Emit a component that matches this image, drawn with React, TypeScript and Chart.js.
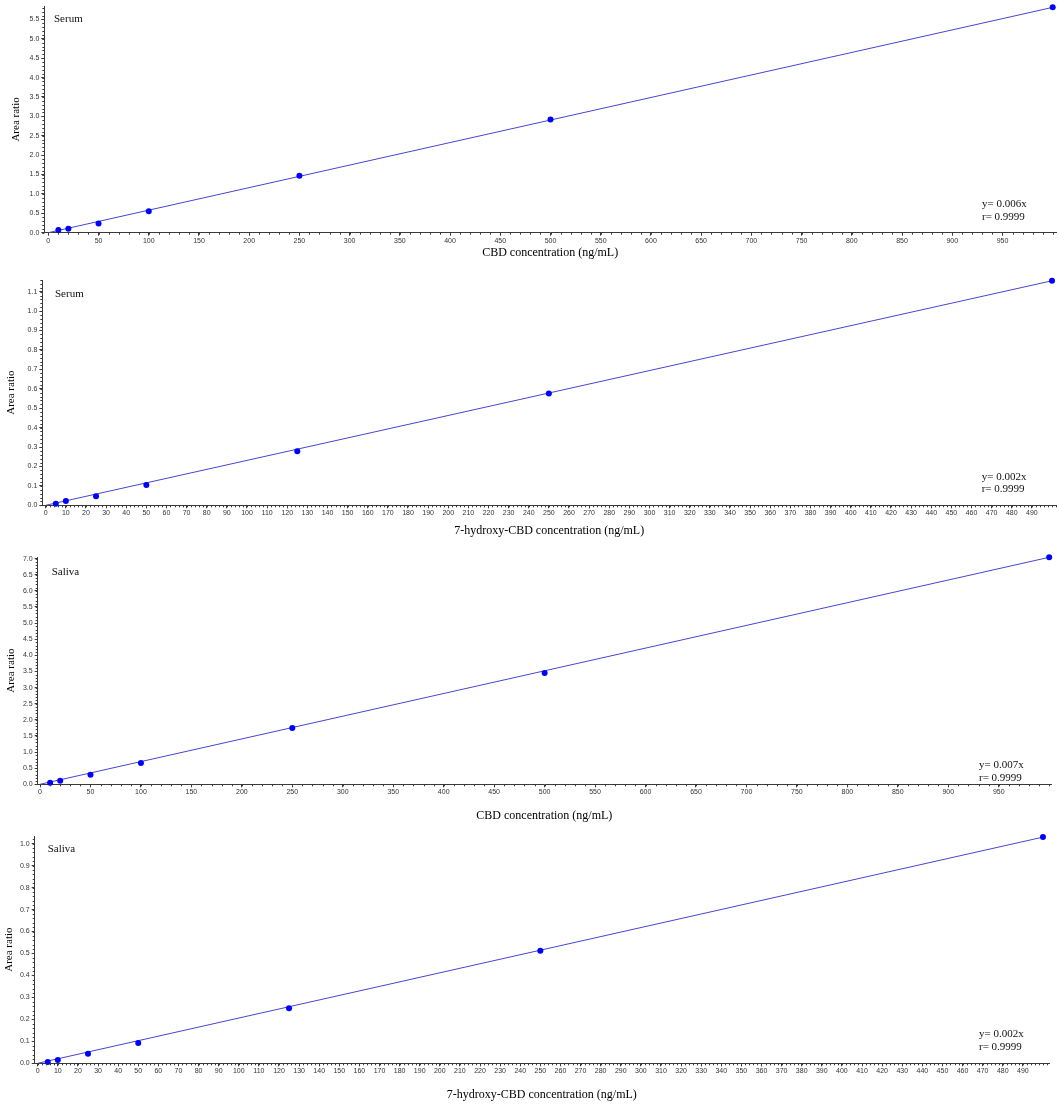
import React, { useEffect, useRef } from "react";
import { Chart, registerables } from "chart.js";

Chart.register(...registerables);

// ---- Data ----
const serumCbdX = [10, 20, 50, 100, 250, 500, 1000];
const serumCbdY = [0.07, 0.1, 0.24, 0.55, 1.47, 2.92, 5.81];
const serumCbdFitX = [0, 1000];
const serumCbdFitY = [0, 5.81];

const serumOhX = [5, 10, 25, 50, 125, 250, 500];
const serumOhY = [0.008, 0.022, 0.046, 0.104, 0.278, 0.576, 1.156];
const serumOhFitX = [0, 500];
const serumOhFitY = [0, 1.156];

const salivaCbdX = [10, 20, 50, 100, 250, 500, 1000];
const salivaCbdY = [0.05, 0.11, 0.3, 0.66, 1.75, 3.45, 7.04];
const salivaCbdFitX = [0, 1000];
const salivaCbdFitY = [0, 7.04];

const salivaOhX = [5, 10, 25, 50, 125, 250, 500];
const salivaOhY = [0.006, 0.015, 0.044, 0.092, 0.251, 0.513, 1.03];
const salivaOhFitX = [0, 500];
const salivaOhFitY = [0, 1.03];

const matrixLabels = ["Serum", "Serum", "Saliva", "Saliva"];
const equationLabels = ["y= 0.006x", "y= 0.002x", "y= 0.007x", "y= 0.002x"];
const rLabels = ["r= 0.9999", "r= 0.9999", "r= 0.9999", "r= 0.9999"];
const xTitles = [
  "CBD concentration (ng/mL)",
  "7-hydroxy-CBD concentration (ng/mL)",
  "CBD concentration (ng/mL)",
  "7-hydroxy-CBD concentration (ng/mL)",
];
const xLastLabels = [950, 490, 950, 490];
const yTitle = "Area ratio";

// ---- Layout / styling per panel ----
const panels = [
  {
    px: serumCbdX, py: serumCbdY, fx: serumCbdFitX, fy: serumCbdFitY,
    top: 0, height: 265, padTop: 3, padRight: 3, yWidth: 44.3, xHeight: 32.3,
    xTitlePB: 4.8, yTitlePT: 9.3,
    xMin: -4, xMax: 1003.3, xStep: 50, xMinor: 10,
    yMax: 5.84, yStep: 0.5, yMinor: 0.1,
    labelDx: 9.7, labelDy: 13, eqDx: 74, eqDy1: 28.7, eqDy2: 15.7,
  },
  {
    px: serumOhX, py: serumOhY, fx: serumOhFitX, fy: serumOhFitY,
    top: 265, height: 280, padTop: 15, padRight: 3, yWidth: 42.3, xHeight: 39.7,
    xTitlePB: 6.8, yTitlePT: 4.3,
    xMin: -1.7, xMax: 502, xStep: 10, xMinor: 2,
    yMax: 1.16, yStep: 0.1, yMinor: 0.02,
    labelDx: 12.7, labelDy: 14, eqDx: 74.3, eqDy1: 28, eqDy2: 16,
  },
  {
    px: salivaCbdX, py: salivaCbdY, fx: salivaCbdFitX, fy: salivaCbdFitY,
    top: 545, height: 283, padTop: 12, padRight: 8, yWidth: 37.7, xHeight: 43.7,
    xTitlePB: 4.8, yTitlePT: 4.3,
    xMin: -2.3, xMax: 1001.8, xStep: 50, xMinor: 10,
    yMax: 7.05, yStep: 0.5, yMinor: 0.1,
    labelDx: 14, labelDy: 14.7, eqDx: 72, eqDy1: 19.5, eqDy2: 6.5,
  },
  {
    px: salivaOhX, py: salivaOhY, fx: salivaOhFitX, fy: salivaOhFitY,
    top: 828, height: 282, padTop: 8, padRight: 10, yWidth: 34.7, xHeight: 46.7,
    xTitlePB: 7.8, yTitlePT: 2.3,
    xMin: -1.5, xMax: 503, xStep: 10, xMinor: 2,
    yMax: 1.035, yStep: 0.1, yMinor: 0.02,
    labelDx: 13, labelDy: 13.3, eqDx: 70, eqDy1: 29, eqDy2: 16,
  },
];

const AXIS_COLOR = "#3a3a3a";
const TICK_FONT = "Liberation Sans";
const SERIF = "Liberation Serif";

const panelPlugin = {
  id: "panelExtras",
  afterDraw(chart: any, _args: any, opts: any) {
    const { ctx, chartArea } = chart;
    const xs = chart.scales.x;
    const ys = chart.scales.y;
    ctx.save();
    // minor ticks
    ctx.strokeStyle = AXIS_COLOR;
    ctx.lineWidth = 1;
    ctx.beginPath();
    const xStart = Math.ceil(xs.min / opts.xMinor);
    const xEnd = Math.floor(xs.max / opts.xMinor);
    for (let i = xStart; i <= xEnd; i++) {
      const v = i * opts.xMinor;
      const p = Math.round(xs.getPixelForValue(v)) + 0.5;
      ctx.moveTo(p, chartArea.bottom);
      ctx.lineTo(p, chartArea.bottom + 2);
    }
    const yStart = Math.ceil(ys.min / opts.yMinor - 1e-9);
    const yEnd = Math.floor(ys.max / opts.yMinor + 1e-9);
    for (let i = yStart; i <= yEnd; i++) {
      const v = i * opts.yMinor;
      const p = Math.round(ys.getPixelForValue(v)) + 0.5;
      ctx.moveTo(chartArea.left - 2, p);
      ctx.lineTo(chartArea.left, p);
    }
    ctx.stroke();

    // texts
    ctx.fillStyle = "#111";
    ctx.font = `11px "${SERIF}"`;
    ctx.textBaseline = "middle";
    ctx.textAlign = "left";
    ctx.fillText(opts.label, chartArea.left + opts.labelDx, chartArea.top + opts.labelDy);
    ctx.fillText(opts.eq, chartArea.right - opts.eqDx, chartArea.bottom - opts.eqDy1);
    ctx.fillText(opts.r, chartArea.right - opts.eqDx, chartArea.bottom - opts.eqDy2);
    ctx.restore();
  },
};

function PanelChart({ idx }: { idx: number }) {
  const ref = useRef<HTMLCanvasElement | null>(null);
  const p = panels[idx];
  useEffect(() => {
    if (!ref.current) return;
    const pts = p.px.map((x, i) => ({ x, y: p.py[i] }));
    const fit = p.fx.map((x, i) => ({ x, y: p.fy[i] }));
    const lastLabel = xLastLabels[idx];
    const chart = new Chart(ref.current, {
      type: "scatter",
      data: {
        datasets: [
          {
            label: "points",
            data: pts,
            pointRadius: 3,
            pointHoverRadius: 3,
            backgroundColor: "#0000ff",
            borderColor: "#0000ff",
            borderWidth: 0,
            showLine: false,
            clip: false,
            order: 0,
          },
          {
            label: "fit",
            data: fit,
            showLine: true,
            borderColor: "#4646cf",
            borderWidth: 1,
            pointRadius: 0,
            fill: false,
            clip: false,
            order: 1,
          },
        ],
      },
      options: {
        animation: false,
        responsive: false,
        maintainAspectRatio: false,
        events: [],
        layout: { padding: { top: p.padTop, right: p.padRight, left: 0, bottom: 0 } },
        plugins: {
          legend: { display: false },
          tooltip: { enabled: false },
          title: { display: false },
          panelExtras: {
            label: matrixLabels[idx],
            eq: equationLabels[idx],
            r: rLabels[idx],
            xMinor: p.xMinor,
            yMinor: p.yMinor,
            labelDx: p.labelDx,
            labelDy: p.labelDy,
            eqDx: p.eqDx,
            eqDy1: p.eqDy1,
            eqDy2: p.eqDy2,
          },
        } as any,
        scales: {
          x: {
            type: "linear",
            position: "bottom",
            min: p.xMin,
            max: p.xMax,
            grid: {
              display: true,
              drawOnChartArea: false,
              drawTicks: true,
              tickLength: 3,
              color: AXIS_COLOR,
            },
            border: { display: true, color: AXIS_COLOR, width: 1 },
            afterBuildTicks: (s: any) => {
              s.ticks = s.ticks.filter((t: any) => t.value <= lastLabel + 1e-9);
            },
            ticks: {
              stepSize: p.xStep,
              autoSkip: false,
              maxRotation: 0,
              minRotation: 0,
              includeBounds: false,
              padding: 1,
              color: "#333",
              font: { family: TICK_FONT, size: 7 },
              callback: (v: any) => String(Math.round(Number(v))),
            },
            title: {
              display: true,
              text: xTitles[idx],
              color: "#000",
              font: { family: SERIF, size: 12 },
              padding: { top: 0, bottom: p.xTitlePB },
            },
            afterFit: (s: any) => {
              s.height = p.xHeight;
            },
          },
          y: {
            type: "linear",
            position: "left",
            min: 0,
            max: p.yMax,
            grid: {
              display: true,
              drawOnChartArea: false,
              drawTicks: true,
              tickLength: 3,
              color: AXIS_COLOR,
            },
            border: { display: true, color: AXIS_COLOR, width: 1 },
            ticks: {
              stepSize: p.yStep,
              autoSkip: false,
              includeBounds: false,
              padding: 2,
              color: "#333",
              font: { family: TICK_FONT, size: 7 },
              callback: (v: any) => Number(v).toFixed(1),
            },
            title: {
              display: true,
              text: yTitle,
              color: "#000",
              font: { family: SERIF, size: 11 },
              padding: { top: p.yTitlePT, bottom: 0 },
            },
            afterFit: (s: any) => {
              s.width = p.yWidth;
            },
          },
        },
      },
      plugins: [panelPlugin],
    } as any);
    return () => chart.destroy();
  }, [idx]);

  return (
    <canvas
      ref={ref}
      width={1059}
      height={p.height}
      style={{
        position: "absolute",
        left: 0,
        top: p.top,
        width: 1059,
        height: p.height,
        display: "block",
      }}
    />
  );
}

export default function App() {
  return (
    <div
      style={{
        position: "absolute",
        left: 0,
        top: 0,
        width: 1059,
        height: 1110,
        background: "#ffffff",
        overflow: "hidden",
      }}
    >
      {panels.map((_, i) => (
        <PanelChart key={i} idx={i} />
      ))}
    </div>
  );
}
